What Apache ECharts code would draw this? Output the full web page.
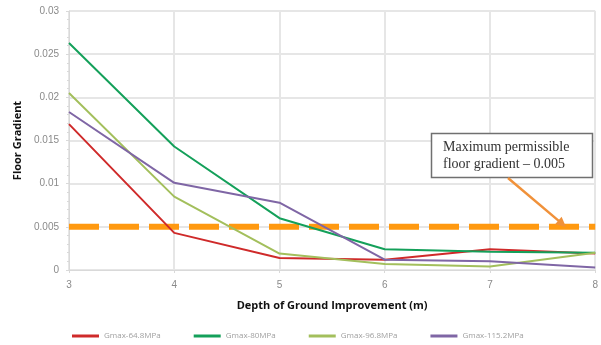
<!DOCTYPE html>
<html>
<head>
<meta charset="UTF-8">
<style>
html, body { margin: 0; padding: 0; background: #fff; }
#chart { width: 601px; height: 345px; }
</style>
</head>
<body>
<div id="chart"></div>
<script src="https://cdn.jsdelivr.net/npm/echarts@6/dist/echarts.min.js"></script>
<script>
// depths (m) and floor gradient values
var depths = [3, 4, 5, 6, 7, 8];
var g648 = [0.0169, 0.0043, 0.0014, 0.0012, 0.0024, 0.0019];
var g80 = [0.0263, 0.0143, 0.0060, 0.0024, 0.0021, 0.0020];
var g968 = [0.0205, 0.0085, 0.0019, 0.0007, 0.0004, 0.0020];
var g1152 = [0.0183, 0.0101, 0.0078, 0.0012, 0.0010, 0.0003];
var names = ['Gmax-64.8MPa', 'Gmax-80MPa', 'Gmax-96.8MPa', 'Gmax-115.2MPa'];
var colors = ['#cf2a2a', '#14a05a', '#a3bf5c', '#7f66a5'];
var limit = 0.005;

var myChart = echarts.init(document.getElementById('chart'));

function pairs(vals) {
	return depths.map(function (d, i) { return [d, vals[i]]; });
}

var series = [g648, g80, g968, g1152].map(function (vals, i) {
	return {
		name: names[i],
		type: 'line',
		data: pairs(vals),
		symbol: 'none',
		lineStyle: { width: 2, color: colors[i] },
		itemStyle: { color: colors[i] },
		z: 3
	};
});
// dashed limit line across the whole depth range
series.push({
	name: 'limit',
	type: 'line',
	data: [[depths[0], limit], [depths[depths.length - 1], limit]],
	symbol: 'none',
	silent: true,
	lineStyle: { type: [30, 10], width: 6, color: '#ff9910' },
	z: 2
});

// arrow from the note box to the limit line
var ax1 = 508, ay1 = 178, ax2 = 566, ay2 = 227;
var ang = Math.atan2(ay2 - ay1, ax2 - ax1);
var hl = 10, hw = 5;
var head = [
	[ax2, ay2],
	[ax2 - hl * Math.cos(ang) + hw * Math.sin(ang), ay2 - hl * Math.sin(ang) - hw * Math.cos(ang)],
	[ax2 - hl * Math.cos(ang) - hw * Math.sin(ang), ay2 - hl * Math.sin(ang) + hw * Math.cos(ang)]
];

option = {
	animation: false,
	grid: { left: 69, right: 3, top: 11, bottom: 75 },
	legend: {
		top: 327,
		left: 67,
		itemWidth: 27,
		itemHeight: 3,
		itemGap: 33,
		icon: 'rect',
		textStyle: { color: '#a0a0a0', fontSize: 8, fontFamily: 'Open Sans' },
		data: names
	},
	xAxis: {
		type: 'value',
		min: 3,
		max: 8,
		interval: 1,
		name: 'Depth of Ground Improvement (m)',
		nameLocation: 'middle',
		nameGap: 30,
		nameTextStyle: { color: '#111', fontSize: 11, fontWeight: 'bold', fontFamily: 'Open Sans' },
		axisLine: { lineStyle: { color: '#d9d9d9' } },
		axisTick: { show: true, length: 3, lineStyle: { color: '#d9d9d9' } },
		axisLabel: { color: '#8a8a8a', fontSize: 10, margin: 10 },
		splitLine: { show: true, lineStyle: { color: '#e6e6e6', width: 2 } }
	},
	yAxis: {
		type: 'value',
		min: 0,
		max: 0.03,
		interval: 0.005,
		name: 'Floor Gradient',
		nameLocation: 'middle',
		nameGap: 42,
		nameTextStyle: { color: '#111', fontSize: 11, fontWeight: 'bold', fontFamily: 'Open Sans' },
		axisLine: { show: true, lineStyle: { color: '#d9d9d9' } },
		axisTick: { show: true, length: 3, lineStyle: { color: '#d9d9d9' } },
		minorTick: { show: true, splitNumber: 5, length: 2, lineStyle: { color: '#d9d9d9' } },
		axisLabel: {
			color: '#8a8a8a', fontSize: 10, margin: 10,
			formatter: function (v) { return String(parseFloat(v.toFixed(3))); }
		},
		splitLine: { show: true, lineStyle: { color: '#e6e6e6', width: 2 } }
	},
	graphic: [
		{
			type: 'rect',
			shape: { x: 431.5, y: 133.5, width: 161, height: 44 },
			style: { fill: '#fff', stroke: '#707070', lineWidth: 1.5 },
			z: 10
		},
		{
			type: 'text',
			left: 443,
			top: 139,
			style: {
				text: 'Maximum permissible\nfloor gradient \u2013 0.005',
				font: '14px "Liberation Serif"',
				fill: '#333',
				lineHeight: 17
			},
			z: 11
		},
		{
			type: 'line',
			shape: { x1: ax1, y1: ay1, x2: ax2 - 6 * Math.cos(ang), y2: ay2 - 6 * Math.sin(ang) },
			style: { stroke: '#f0913a', lineWidth: 2.5 },
			z: 10
		},
		{
			type: 'polygon',
			shape: { points: head },
			style: { fill: '#f0913a' },
			z: 10
		}
	],
	series: series
};

myChart.setOption(option, true);
</script>
</body>
</html>
